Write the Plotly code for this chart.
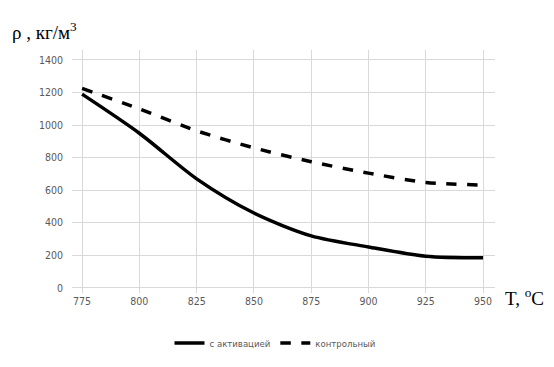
import plotly.graph_objects as go

temps = [775, 800, 825, 850, 875, 900, 925, 950]
activated = [1190, 950, 670, 460, 320, 252, 195, 185]
control = [1225, 1100, 965, 860, 775, 705, 648, 632]
x_ticks = [775, 800, 825, 850, 875, 900, 925, 950]
y_ticks = [0, 200, 400, 600, 800, 1000, 1200, 1400]

font_tick = "Liberation Sans Narrow, DejaVu Sans Condensed, Arial Narrow, sans-serif"

fig = go.Figure()
fig.add_trace(go.Scatter(x=temps, y=activated, mode="lines", name="с активацией",
                         line=dict(color="black", width=3.5, shape="spline", smoothing=0.8)))
fig.add_trace(go.Scatter(x=temps, y=control, mode="lines", name="контрольный",
                         line=dict(color="black", width=3.5, dash="dash", shape="spline", smoothing=0.8)))

fig.update_layout(
    width=554, height=367,
    margin=dict(l=64, r=67, t=42, b=82, autoexpand=False),
    plot_bgcolor="white", paper_bgcolor="white",
    showlegend=True,
    legend=dict(orientation="h", xref="container", yref="container",
                x=(275 - 8) / 554, xanchor="center", y=1 - (343 - 8) / 367, yanchor="middle",
                font=dict(family=font_tick, size=9.5, color="#595959"),
                itemwidth=30, tracegroupgap=0),
    xaxis=dict(range=[770.6, 955.2], tickvals=x_ticks, showgrid=True, gridcolor="#d9d9d9",
               gridwidth=1, zeroline=False, showline=False, ticks="", automargin=False,
               tickfont=dict(family=font_tick, size=10.5, color="#595959")),
    yaxis=dict(range=[-31, 1461], tickvals=y_ticks, showgrid=True, gridcolor="#d9d9d9",
               gridwidth=1, zeroline=False, showline=False, ticks="", ticklabelstandoff=8,
               automargin=False,
               tickfont=dict(family=font_tick, size=10.5, color="#595959")),
    annotations=[
        dict(text="ρ , кг/м<sup>3</sup>", xref="paper", yref="paper", x=-62 / 423, y=(293 - 45) / 243,
             xanchor="left", yanchor="bottom", showarrow=False,
             font=dict(family="Liberation Serif, Times New Roman, serif", size=19, color="black")),
        dict(text="T, <sup>o</sup>C", xref="paper", yref="paper", x=(503 - 72) / 423, y=-4 / 243,
             xanchor="left", yanchor="middle", showarrow=False,
             font=dict(family="Liberation Serif, Times New Roman, serif", size=19, color="black")),
    ],
)

fig.write_html("out.html")
